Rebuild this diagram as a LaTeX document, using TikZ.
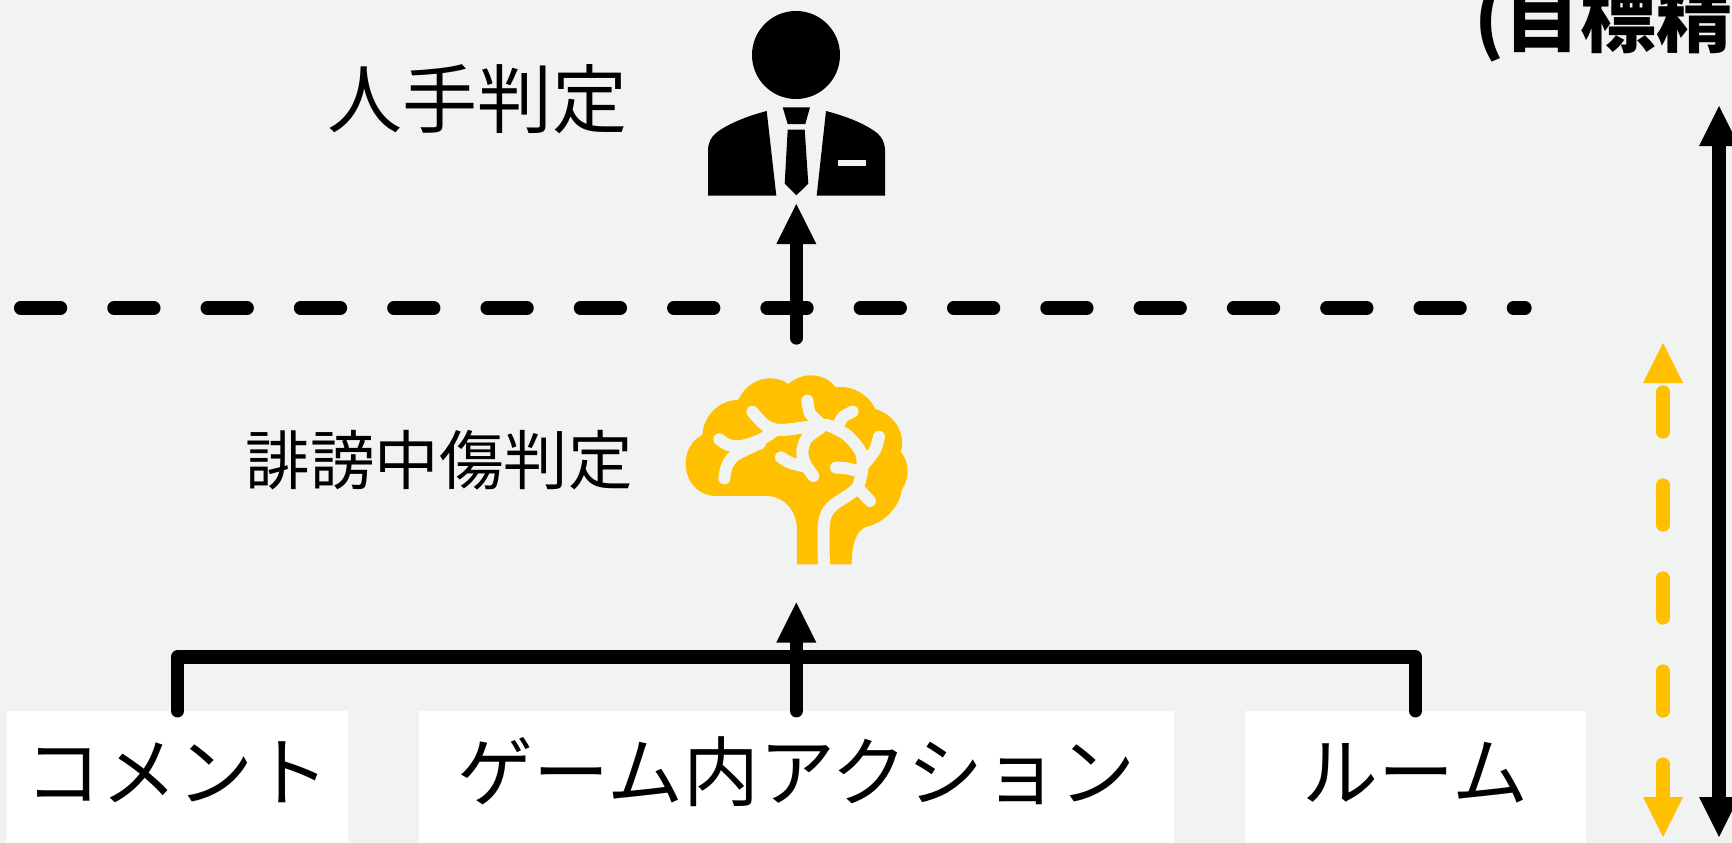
\documentclass[tikz,border=0pt]{standalone}
\usepackage{fontspec}
\setmainfont{Noto Sans CJK JP}
\usepackage{tikz}
\usetikzlibrary{arrows.meta}
\definecolor{panel}{HTML}{F1F3F3}
\definecolor{brainfill}{HTML}{FFC000}
\tikzset{
  bigtip/.style={-{Triangle[length=40pt,width=40pt,line width=0pt]}},
  bothtip/.style={{Triangle[length=40pt,width=40pt,line width=0pt]}-{Triangle[length=40pt,width=40pt,line width=0pt]}},
  flowline/.style={draw=black,line width=13.3pt,line cap=round,line join=round},
  inputbox/.style={fill=white,inner sep=0pt,text height=89pt,text depth=43pt,font=\fontsize{76}{80}\selectfont},
  judgelabel/.style={inner sep=0pt,text=black},
  crease/.style={draw=panel,line width=12pt,line cap=round,line join=round},
}

\begin{document}
\begin{tikzpicture}[x=1pt,y=-1pt]
\useasboundingbox (0,0) rectangle (1732,843);
\clip (0,0) rectangle (1732,843);
\fill[panel] (0,0) rectangle (1732,843);
% input boxes
\foreach \nm/\xx/\boxw/\txt in {commentbox/177.5/341/コメント, actionbox/796.3/755/ゲーム内アクション, roombox/1415.5/341/ルーム}
{
  \node[inputbox,text width=\boxw pt,align=center,anchor=base] (\nm) at (\xx,800) {\txt};
}
% labels
\node[judgelabel,font=\fontsize{75}{80}\selectfont] (manuallabel) at (477,99) {人手判定};
\node[judgelabel,font=\fontsize{64.5}{70}\selectfont] (judgelabel) at (439,460) {誹謗中傷判定};
\node[inner sep=0pt,anchor=base west,font=\fontsize{76}{80}\bfseries\selectfont] (goallabel) at (1474,47) {(目標精};
% person
\fill (796,55) circle[radius=44];
\fill (766.7,111) .. controls (748,116) and (729,123) .. (716,133) .. controls (711,137) and (708,143) .. (708,151) -- (708,195.7) -- (776.3,195.7) -- cycle;
\fill (826,111) .. controls (845,116) and (864,123) .. (877,133) .. controls (882,137) and (885,143) .. (885,151) -- (885,195.7) -- (816.7,195.7) -- cycle;
\fill (782.7,107.3) -- (810,107.3) -- (805.3,124) -- (787.7,124) -- cycle;
\fill (787.7,129.7) -- (804.7,129.7) -- (808.3,183.7) -- (796.3,195.3) -- (784.7,183.7) -- cycle;
\fill[panel] (838,160) rectangle (865.7,165.7);
\coordinate (persontip) at (796.3,204);
\coordinate (judgeout) at (796.3,338);
% brain
\begin{scope}[shift={(670,360)},x=0.3333pt,y=-0.3333pt]
\fill[brainfill] (381,613) -- (381,510) .. controls (381,450) and (340,408) .. (290,408) -- (140,408)
  .. controls (85,408) and (47,365) .. (47,310) .. controls (47,275) and (65,240) .. (97,225)
  .. controls (100,170) and (145,120) .. (205,120) .. controls (225,75) and (265,55) .. (300,55)
  .. controls (320,55) and (340,60) .. (355,72) .. controls (375,55) and (400,46) .. (422,46)
  .. controls (455,46) and (480,60) .. (497,82) .. controls (550,75) and (595,105) .. (617,148)
  .. controls (665,160) and (697,205) .. (697,250) .. controls (697,258) and (695,268) .. (692,275)
  .. controls (705,290) and (713,310) .. (713,335) .. controls (713,355) and (705,375) .. (695,390)
  .. controls (690,440) and (640,490) .. (590,500) .. controls (560,510) and (545,550) .. (545,613) -- cycle;
\draw[crease,line cap=butt] plot[smooth] coordinates {(462,616) (462,490) (485,440) (560,385) (578,320)};
\draw[crease] plot[smooth] coordinates {(578,320) (572,275) (530,225) (470,195) (420,200) (330,210) (285,195) (247,155)};
\draw[crease] plot[smooth] coordinates {(412,122) (420,160) (450,190)};
\draw[crease] plot[smooth] coordinates {(548,155) (520,170) (505,195)};
\draw[crease] plot[smooth] coordinates {(627,230) (615,270) (585,310)};
\draw[crease] plot[smooth] coordinates {(498,323) (530,325) (570,335)};
\draw[crease] plot[smooth] coordinates {(565,385) (600,423)};
\draw[crease] plot[smooth] coordinates {(450,205) (410,235) (397,275) (405,310) (430,348)};
\draw[crease] plot[smooth] coordinates {(333,292) (360,308) (405,320)};
\draw[crease] plot[smooth] coordinates {(148,238) (175,255) (215,258) (270,240) (310,215)};
\draw[crease] plot[smooth] coordinates {(163,355) (170,320) (190,290) (230,268) (270,250)};
\end{scope}
\coordinate (braintip) at (796.3,602.5);
% connectors
\draw[flowline] (commentbox.north) |- (796.3,657) -| (roombox.north);
\draw[flowline,bigtip] (actionbox.north) -- (braintip);
\draw[flowline,bigtip] (judgeout) -- (persontip);
\coordinate (borderleft) at (20.6,308);
\coordinate (borderright) at (1525,308);
\draw[flowline,dash pattern=on 40pt off 53.3pt] (borderleft) -- (borderright);
% scales
\coordinate (scaletop) at (1719,106);
\coordinate (scalebottom) at (1719,837);
\draw[flowline,bothtip] (scaletop) -- (scalebottom);
\coordinate (ranktop) at (1663,343);
\coordinate (rankbottom) at (1663,837);
\draw[flowline,draw=brainfill,dash pattern=on 40pt off 53pt,dash phase=84pt,bothtip] (ranktop) -- (rankbottom);
\end{tikzpicture}
\end{document}
